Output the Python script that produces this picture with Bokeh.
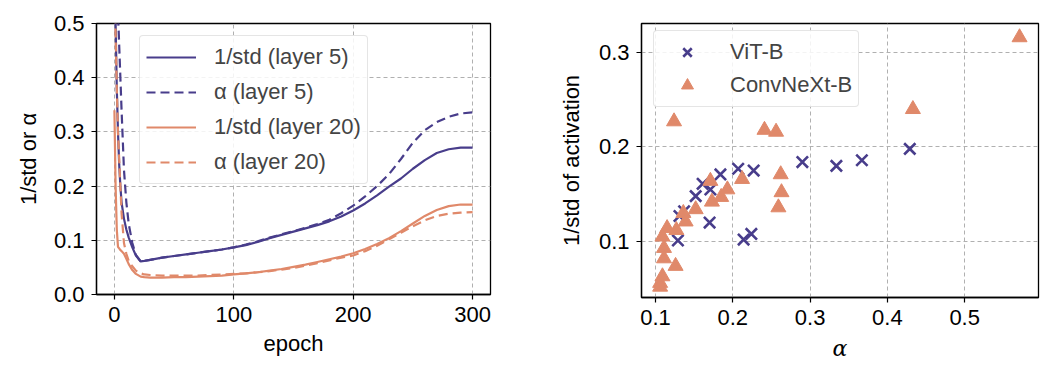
from bokeh.plotting import figure
from bokeh.layouts import row
from bokeh.models import FixedTicker, PrintfTickFormatter, Range1d, Legend, LegendItem
from bokeh.embed import file_html
from bokeh.resources import INLINE

# ---------------- data ----------------
epochs = [0, 1, 2, 3, 4, 5, 6, 8, 10, 12, 15, 18, 22, 25, 30, 40, 50, 60, 70, 80, 90,
          100, 110, 120, 130, 140, 150, 160, 170, 180, 190, 200, 210, 220, 230, 240,
          250, 260, 270, 280, 290, 300]
inv_std_l5 = [0.62, 0.50, 0.38, 0.30, 0.24, 0.20, 0.17, 0.14, 0.12, 0.105, 0.087, 0.072,
              0.061, 0.062, 0.064, 0.068, 0.071, 0.074, 0.077, 0.080, 0.083, 0.087, 0.091,
              0.097, 0.104, 0.110, 0.116, 0.122, 0.128, 0.135, 0.144, 0.155, 0.168, 0.183,
              0.199, 0.214, 0.232, 0.248, 0.261, 0.268, 0.271, 0.271]
alpha_l5 = [0.90, 0.75, 0.62, 0.52, 0.46, 0.40, 0.34, 0.23, 0.17, 0.13, 0.095, 0.073,
            0.061, 0.062, 0.064, 0.068, 0.071, 0.074, 0.077, 0.080, 0.083, 0.087, 0.092,
            0.098, 0.105, 0.111, 0.117, 0.123, 0.130, 0.138, 0.150, 0.164, 0.181, 0.200,
            0.222, 0.250, 0.280, 0.303, 0.318, 0.328, 0.334, 0.336]
inv_std_l20 = [0.34, 0.20, 0.12, 0.088, 0.085, 0.082, 0.080, 0.075, 0.066, 0.056, 0.045,
               0.038, 0.033, 0.032, 0.031, 0.031, 0.032, 0.032, 0.033, 0.034, 0.035, 0.037,
               0.039, 0.041, 0.044, 0.047, 0.051, 0.055, 0.060, 0.065, 0.070, 0.076, 0.084,
               0.093, 0.104, 0.117, 0.131, 0.145, 0.156, 0.163, 0.166, 0.166]
alpha_l20 = [0.62, 0.48, 0.38, 0.30, 0.25, 0.20, 0.15, 0.095, 0.075, 0.062, 0.052, 0.044,
             0.039, 0.037, 0.036, 0.035, 0.035, 0.035, 0.035, 0.036, 0.037, 0.038, 0.039,
             0.041, 0.043, 0.046, 0.049, 0.053, 0.058, 0.063, 0.068, 0.072, 0.080, 0.090,
             0.102, 0.114, 0.126, 0.137, 0.145, 0.149, 0.151, 0.152]

vit_alpha = [0.129, 0.131, 0.137, 0.152, 0.161, 0.171, 0.170, 0.184, 0.207, 0.227, 0.214,
             0.224, 0.290, 0.334, 0.367, 0.429]
vit_inv_std = [0.101, 0.127, 0.132, 0.148, 0.161, 0.155, 0.120, 0.171, 0.177, 0.175, 0.102,
               0.108, 0.184, 0.180, 0.186, 0.198]
cnx_alpha = [0.124, 0.241, 0.256, 0.433, 0.571, 0.212, 0.262, 0.263, 0.259, 0.171, 0.173,
             0.185, 0.193, 0.152, 0.136, 0.139, 0.115, 0.127, 0.109, 0.111, 0.111, 0.126,
             0.109, 0.106, 0.106]
cnx_inv_std = [0.227, 0.218, 0.216, 0.240, 0.316, 0.166, 0.171, 0.152, 0.136, 0.164, 0.142,
               0.147, 0.155, 0.134, 0.130, 0.121, 0.114, 0.112, 0.105, 0.093, 0.082, 0.074,
               0.063, 0.056, 0.052]

left_xticks = [0, 100, 200, 300]
left_yticks = [0.0, 0.1, 0.2, 0.3, 0.4, 0.5]
right_xticks = [0.1, 0.2, 0.3, 0.4, 0.5]
right_yticks = [0.1, 0.2, 0.3]

PURPLE = "#483d8b"
ORANGE = "#e0896a"
FONT = "Liberation Sans"
FS = "22px"


def style(p):
    p.outline_line_color = "black"
    p.outline_line_width = 1.3
    p.outline_line_alpha = 1
    p.background_fill_color = "white"
    p.border_fill_color = "white"
    for ax in p.axis:
        ax.axis_line_color = "black"
        ax.axis_line_width = 1.3
        ax.major_tick_in = 0
        ax.major_tick_out = 5
        ax.major_tick_line_width = 1.2
        ax.minor_tick_line_color = None
        ax.major_label_text_font = FONT
        ax.major_label_text_font_size = FS
        ax.major_label_text_color = "black"
        ax.major_label_standoff = 7
        ax.axis_label_text_font = FONT
        ax.axis_label_text_font_size = FS
        ax.axis_label_text_font_style = "normal"
        ax.axis_label_text_color = "black"
    for g in p.grid:
        g.grid_line_color = "#b0b0b0"
        g.grid_line_dash = "4 3"
        g.grid_line_width = 1


def style_legend(leg):
    leg.label_text_font = FONT
    leg.label_text_font_size = FS
    leg.glyph_height = 30
    leg.label_height = 30
    leg.margin = 0
    leg.border_line_color = "#cccccc"
    leg.border_line_width = 1.2
    leg.border_radius = 4
    leg.background_fill_alpha = 0.85


# ---------------- left figure ----------------
p1 = figure(width=538, height=365, output_backend="svg", toolbar_location=None,
            x_range=Range1d(-15, 315), y_range=Range1d(0, 0.5),
            min_border_left=96, min_border_right=48, min_border_top=23, min_border_bottom=71)
p1.frame_width = 394
p1.frame_height = 271
style(p1)
p1.xaxis.ticker = FixedTicker(ticks=left_xticks)
p1.yaxis.ticker = FixedTicker(ticks=left_yticks)
p1.yaxis.formatter = PrintfTickFormatter(format="%.1f")
p1.xaxis.axis_label = "epoch"
p1.yaxis.axis_label = "1/std or α"
p1.yaxis.axis_label_standoff = 10
p1.xaxis.axis_label_standoff = 6

r1 = p1.line(epochs, inv_std_l5, line_color=PURPLE, line_width=2.2)
r2 = p1.line(epochs, alpha_l5, line_color=PURPLE, line_width=2.2, line_dash="9 5")
r3 = p1.line(epochs, inv_std_l20, line_color=ORANGE, line_width=2.2)
r4 = p1.line(epochs, alpha_l20, line_color=ORANGE, line_width=2.2, line_dash="9 5")

leg1 = Legend(items=[LegendItem(label="1/std (layer 5)", renderers=[r1]),
                     LegendItem(label="α (layer 5)", renderers=[r2]),
                     LegendItem(label="1/std (layer 20)", renderers=[r3]),
                     LegendItem(label="α (layer 20)", renderers=[r4])],
              location=(43, 110))
style_legend(leg1)
leg1.glyph_width = 50
leg1.label_standoff = 18
leg1.spacing = 5
leg1.padding = 6
p1.add_layout(leg1, "center")

# ---------------- right figure ----------------
p2 = figure(width=508, height=365, output_backend="svg", toolbar_location=None,
            x_range=Range1d(0.0819, 0.5955), y_range=Range1d(0.0407, 0.3307),
            min_border_left=103, min_border_right=8, min_border_top=17, min_border_bottom=74)
p2.frame_width = 397
p2.frame_height = 274
style(p2)
p2.xaxis.ticker = FixedTicker(ticks=right_xticks)
p2.yaxis.ticker = FixedTicker(ticks=right_yticks)
p2.xaxis.formatter = PrintfTickFormatter(format="%.1f")
p2.yaxis.formatter = PrintfTickFormatter(format="%.1f")
p2.xaxis.axis_label = "α"
p2.xaxis.axis_label_text_font = "DejaVu Serif"
p2.xaxis.axis_label_text_font_style = "italic"
p2.xaxis.axis_label_standoff = 8
p2.yaxis.axis_label = "1/std of activation"
p2.yaxis.axis_label_standoff = 12

s1 = p2.scatter(vit_alpha, vit_inv_std, marker="x", size=16, line_color=PURPLE, line_width=2.6)
s2 = p2.scatter(cnx_alpha, cnx_inv_std, marker="triangle", size=15, fill_color=ORANGE,
                line_color=ORANGE, line_width=1)

leg2 = Legend(items=[LegendItem(label="ViT-B", renderers=[s1]),
                     LegendItem(label="ConvNeXt-B", renderers=[s2])],
              location=(12, 190))
style_legend(leg2)
leg2.glyph_width = 54
leg2.label_standoff = 16
leg2.spacing = 3
leg2.padding = 6
p2.add_layout(leg2, "center")

layout = row(p1, p2, spacing=0)
open("out.html", "w").write(file_html(layout, INLINE))
